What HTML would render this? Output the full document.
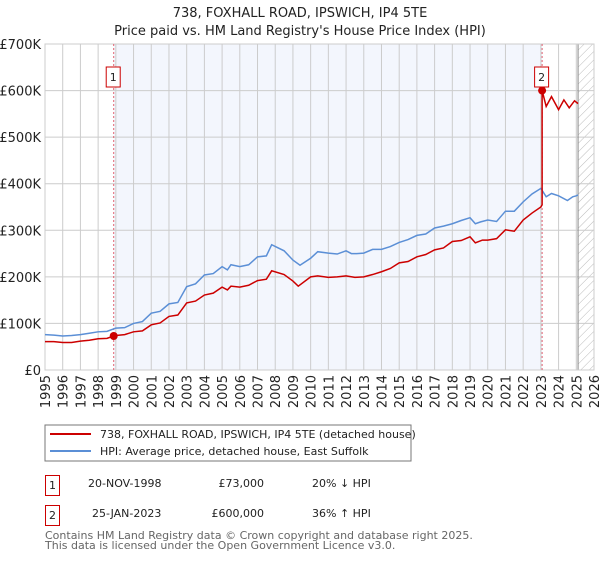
<!DOCTYPE html>
<html><head><meta charset="utf-8"><style>
body{margin:0;background:#fff;font-family:"DejaVu Sans","Liberation Sans",sans-serif;}
svg text{font-family:"DejaVu Sans","Liberation Sans",sans-serif;}
</style></head><body>
<svg id="chart" width="600" height="560" xmlns="http://www.w3.org/2000/svg">
<defs><pattern id="hatch" width="6" height="6" patternUnits="userSpaceOnUse" patternTransform="rotate(45)"><line x1="0" y1="0" x2="0" y2="6" stroke="#bbb" stroke-width="1"/></pattern></defs>
<text x="300" y="17" text-anchor="middle" font-size="13" fill="#222">738, FOXHALL ROAD, IPSWICH, IP4 5TE</text>
<text x="300" y="35" text-anchor="middle" font-size="13" fill="#222">Price paid vs. HM Land Registry's House Price Index (HPI)</text>
<g id="plot"></g>
<g>
<rect x="45" y="425" width="366" height="36" fill="#fff" stroke="#777"/>
<line x1="50" y1="434" x2="91" y2="434" stroke="#cc0000" stroke-width="2"/>
<text x="100" y="438" font-size="11" fill="#222">738, FOXHALL ROAD, IPSWICH, IP4 5TE (detached house)</text>
<line x1="50" y1="451" x2="91" y2="451" stroke="#5b8fd6" stroke-width="2"/>
<text x="100" y="455" font-size="11" fill="#222">HPI: Average price, detached house, East Suffolk</text>
</g>
<g font-size="11" fill="#222">
<rect x="45.5" y="475.5" width="14" height="20" fill="#fff" stroke="#cc0000"/>
<text x="52.5" y="489" text-anchor="middle">1</text>
<text x="88" y="487">20-NOV-1998</text>
<text x="264" y="487" text-anchor="end">£73,000</text>
<text x="312" y="487">20% ↓ HPI</text>
<rect x="45.5" y="505.5" width="14" height="20" fill="#fff" stroke="#cc0000"/>
<text x="52.5" y="519" text-anchor="middle">2</text>
<text x="92" y="517">25-JAN-2023</text>
<text x="264" y="517" text-anchor="end">£600,000</text>
<text x="312" y="517">36% ↑ HPI</text>
</g>
<text x="45" y="539" font-size="11" fill="#666">Contains HM Land Registry data © Crown copyright and database right 2025.</text>
<text x="45" y="549" font-size="11" fill="#666">This data is licensed under the Open Government Licence v3.0.</text>
</svg>
<script>
const hpiYears=[1995,1995.5,1996,1996.5,1997,1997.5,1998,1998.5,1999,1999.5,2000,2000.5,2001,2001.5,2002,2002.5,2003,2003.5,2004,2004.5,2005,2005.3,2005.5,2006,2006.5,2007,2007.5,2007.8,2008.5,2009,2009.4,2010,2010.4,2011,2011.5,2012,2012.3,2012.6,2013,2013.5,2014,2014.5,2015,2015.5,2016,2016.5,2017,2017.5,2018,2018.5,2019,2019.3,2019.6,2020,2020.5,2021,2021.5,2022,2022.5,2023,2023.3,2023.6,2024,2024.5,2024.8,2025,2025.1];
const hpiValues=[76,75,73,74,76,79,82,83,90,91,100,104,122,126,142,145,179,185,204,207,222,215,226,222,226,243,245,269,256,236,225,240,254,251,249,256,250,250,251,259,259,265,274,280,289,292,305,309,314,321,327,314,318,322,319,341,341,361,378,390,372,379,374,364,372,374,376];
const ppYears=[1995,1995.5,1996,1996.5,1997,1997.5,1998,1998.5,1998.88,1999,1999.5,2000,2000.5,2001,2001.5,2002,2002.5,2003,2003.5,2004,2004.5,2005,2005.3,2005.5,2006,2006.5,2007,2007.5,2007.8,2008.5,2009,2009.3,2010,2010.4,2011,2011.5,2012,2012.5,2013,2013.5,2014,2014.5,2015,2015.5,2016,2016.5,2017,2017.5,2018,2018.5,2019,2019.3,2019.7,2020,2020.5,2021,2021.5,2022,2022.5,2023,2023.07,2023.07,2023.3,2023.6,2024,2024.3,2024.6,2024.9,2025.1];
const ppValues=[61,61,59,59,62,64,67,68,73,74,76,82,84,97,101,115,118,144,148,161,165,178,172,180,178,182,192,195,213,205,191,180,200,202,199,200,202,199,200,205,211,218,230,233,243,248,258,262,276,278,286,273,279,279,282,301,298,322,337,350,355,600,566,587,559,580,563,578,572];
const yTicks=[0,100,200,300,400,500,600,700];
const yTickLabels=["£0","£100K","£200K","£300K","£400K","£500K","£600K","£700K"];
const xTicks=[1995,1996,1997,1998,1999,2000,2001,2002,2003,2004,2005,2006,2007,2008,2009,2010,2011,2012,2013,2014,2015,2016,2017,2018,2019,2020,2021,2022,2023,2024,2025,2026];
const saleYears=[1998.88,2023.07];
const saleValues=[73,600];
const L=45,R=594,T=44,B=370,X0=1995,X1=2026,YMAX=700;
const X=y=>L+(y-X0)/(X1-X0)*(R-L);
const Y=v=>B-v/YMAX*(B-T);
const NS="http://www.w3.org/2000/svg";
const g=document.getElementById('plot');
function mk(tag,at){const e=document.createElementNS(NS,tag);for(const k in at)e.setAttribute(k,at[k]);g.appendChild(e);return e;}
let e;
e=mk('rect',{x:L,y:T,width:R-L,height:B-T,fill:'#fff'});


e=mk('rect',{x:X(saleYears[0]),y:T,width:X(saleYears[1])-X(saleYears[0]),height:B-T,fill:'#f3f6fd'});


e=mk('rect',{x:X(2025.1),y:T,width:R-X(2025.1),height:B-T,fill:'url(#hatch)'});


yTicks.forEach((v,i)=>{
 e=mk('line',{x1:L,x2:R,y1:Y(v),y2:Y(v),stroke:'#ccc'});
 
 
 e=mk('text',{x:L-4,y:Y(v)+5,'text-anchor':'end','font-size':13,fill:'#222'});
 e.textContent=yTickLabels[i];
 
 
});
xTicks.forEach(yr=>{
 e=mk('line',{x1:X(yr),x2:X(yr),y1:T,y2:B,stroke:'#ccc'});
 
 
 e=mk('text',{x:0,y:0,'text-anchor':'end','font-size':13,fill:'#222',transform:`translate(${X(yr)+5},${B+5}) rotate(-90)`});
 e.textContent=yr;
 
 
});
e=mk('line',{x1:X(2025.1),x2:X(2025.1),y1:T,y2:B,stroke:'#888'});


e=mk('rect',{x:L,y:T,width:R-L,height:B-T,fill:'none',stroke:'#ccc'});


saleYears.forEach((yr,i)=>{
 e=mk('line',{x1:X(yr),x2:X(yr),y1:T,y2:B,stroke:'#e06070','stroke-dasharray':'2,2'});
 
 
});
e=mk('polyline',{points:hpiYears.map((y,i)=>X(y)+','+Y(hpiValues[i])).join(' '),fill:'none',stroke:'#5b8fd6','stroke-width':1.5});


e=mk('polyline',{points:ppYears.map((y,i)=>X(y)+','+Y(ppValues[i])).join(' '),fill:'none',stroke:'#cc0000','stroke-width':1.5});


saleYears.forEach((yr,i)=>{
 e=mk('circle',{cx:X(yr),cy:Y(saleValues[i]),r:4,fill:'#cc0000'});
 
 
 e=mk('rect',{x:X(yr)-7.5,y:67,width:14,height:20,fill:'#fff',stroke:'#cc0000'});
 
 
 e=mk('text',{x:X(yr)-0.5,y:81,'text-anchor':'middle','font-size':11,fill:'#222'});
 e.textContent=String(i+1);
 
 
});
</script>
</body></html>
